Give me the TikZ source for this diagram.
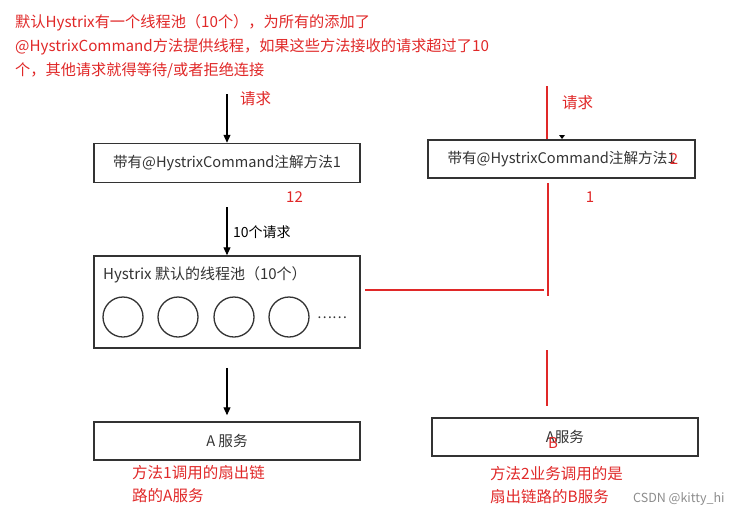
\documentclass[tikz,border=0pt]{standalone}
\usepackage{fontspec}
\setmainfont{Noto Sans CJK SC}
\usetikzlibrary{arrows.meta,calc}
\definecolor{hred}{HTML}{E02828}
\definecolor{hdark}{HTML}{333333}
\definecolor{hgray}{HTML}{8C8C8C}
\tikzset{
  box/.style={draw=hdark,line width=1.5pt,minimum width=266pt,inner sep=0pt,text=hdark,font=\fontsize{14.6}{16}\selectfont},
  arr/.style={draw=black,line width=1.1pt,-{Triangle[length=8pt,width=7pt]}},
  rline/.style={draw=hred,line width=2.2pt},
  rtext/.style={text=hred,font=\fontsize{15.5}{23}\selectfont,inner sep=0pt,anchor=west,align=left},
  lbl/.style={inner sep=0pt,font=\fontsize{14}{16}\selectfont},
}
\begin{document}
\begin{tikzpicture}[x=1pt,y=-1pt]
\useasboundingbox (0,0) rectangle (741,517);
% top note
\node[rtext,anchor=north west,text width=560pt,font=\fontsize{15.2}{24}\selectfont] (note) at (15,14) {默认Hystrix有一个线程池（10个），为所有的添加了\\@HystrixCommand方法提供线程，如果这些方法接收的请求超过了10\\个，其他请求就得等待/或者拒绝连接};
% left column
\node[box,minimum height=39pt] (b1) at (227,163) {带有@HystrixCommand注解方法1};
\node[box,minimum height=92pt] (b2) at (227,302) {};
\node[box,minimum height=38pt] (b3) at (227,441) {A 服务};
\node[lbl,text=hdark,anchor=west,font=\fontsize{15}{16}\selectfont] (pooltitle) at (103,275) {Hystrix 默认的线程池（10个）};
\foreach \i/\cx in {1/123,2/178,3/234,4/289}{
  \node[circle,draw=hdark,line width=1.3pt,minimum size=40pt,inner sep=0pt] (c\i) at (\cx,317) {};
}
\node[lbl,text=hdark,anchor=west] (dots) at (317,318) {……};
\coordinate (in1) at (227,94);
\draw[arr] (in1) -- (b1.north);
\node[lbl,text=hred,anchor=west,font=\fontsize{15.5}{16}\selectfont] (req1) at (240,99) {请求};
\draw[arr,shorten <=24pt] (b1.south) -- (b2.north);
\node[lbl,anchor=west] (ten) at (233,232) {10个请求};
\node[lbl,text=hred,anchor=west,font=\fontsize{15}{16}\selectfont] (n12) at (286,197) {12};
\draw[arr,shorten <=19pt,shorten >=6pt] (b2.south) -- (b3.north);
\node[rtext] (t1) at (132,484) {方法1调用的扇出链\\路的A服务};
% right column
\node[box,minimum height=38pt,minimum width=267pt] (r1) at (561.5,159) {带有@HystrixCommand注解方法1};
\node[lbl,text=hred,font=\fontsize{15}{16}\selectfont] (two) at (674,159) {2};
\node[box,minimum height=38pt] (r2) at (565,437) {A服务};
\node[lbl,text=hred,font=\fontsize{15}{16}\selectfont] (bb) at (553,443) {B};
\coordinate (rtop) at (547,86);
\draw[rline] (rtop) -- (rtop |- r1.north);
\node[lbl,text=hred,anchor=west,font=\fontsize{15.5}{16}\selectfont] (req2) at (562,103) {请求};
\fill[black] (559,135) -- (565,135) -- (562,139) -- cycle;
\node[lbl,text=hred,font=\fontsize{15}{16}\selectfont] (n1) at (590,197) {1};
\coordinate (rmid) at (548,296);
\draw[rline,shorten <=4pt] (rmid |- r1.south) -- (rmid);
\coordinate (hl) at (365,290);
\coordinate (hr) at (544,290);
\draw[rline] (hl) -- (hr);
\coordinate (ra) at (547,350);
\coordinate (rb) at (547,406);
\draw[rline] (ra) -- (rb);
\node[rtext] (t2) at (490,485) {方法2业务调用的是\\扇出链路的B服务};
\node[lbl,text=hgray,anchor=west,font=\fontsize{12.5}{15}\selectfont] (csdn) at (633,499) {CSDN @kitty\_hi};
\end{tikzpicture}
\end{document}
